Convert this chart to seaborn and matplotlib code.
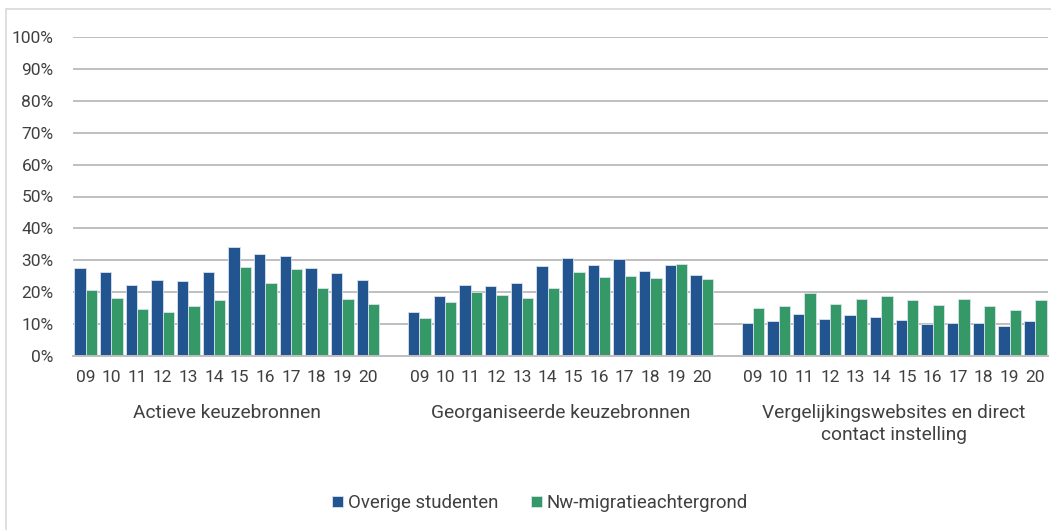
import matplotlib
matplotlib.use("Agg")
import matplotlib.pyplot as plt
import matplotlib.transforms as mtransforms
from matplotlib.patches import Rectangle
from matplotlib.ticker import PercentFormatter
import pandas as pd
import seaborn as sns

# Survey years (20xx) and the three clusters of information sources
years = ["09", "10", "11", "12", "13", "14", "15", "16", "17", "18", "19", "20"]
groups = [
    "Actieve keuzebronnen",
    "Georganiseerde keuzebronnen",
    "Vergelijkingswebsites en direct\ncontact instelling",
]
series = ["Overige studenten", "Nw-migratieachtergrond"]

# Share of students per year (%)
actief_overig = [27.5, 26.2, 22.2, 23.7, 23.5, 26.4, 34.1, 32.0, 31.3, 27.5, 25.9, 23.7]
actief_migratie = [20.7, 18.3, 14.7, 13.8, 15.6, 17.6, 28.0, 22.9, 27.2, 21.4, 18.0, 16.3]
georg_overig = [13.7, 18.8, 22.3, 22.0, 22.9, 28.3, 30.7, 28.6, 30.4, 26.7, 28.4, 25.4]
georg_migratie = [11.9, 16.9, 20.1, 19.1, 18.2, 21.4, 26.4, 24.8, 25.2, 24.3, 28.8, 24.1]
vergel_overig = [10.2, 11.0, 13.2, 11.7, 12.8, 12.3, 11.3, 9.9, 10.3, 10.2, 9.3, 11.1]
vergel_migratie = [15.1, 15.6, 19.6, 16.3, 17.9, 18.8, 17.5, 16.0, 17.8, 15.8, 14.5, 17.6]

values = {
    groups[0]: (actief_overig, actief_migratie),
    groups[1]: (georg_overig, georg_migratie),
    groups[2]: (vergel_overig, vergel_migratie),
}

rows = []
order = []
for gi, g in enumerate(groups):
    if gi > 0:
        order.append(f"gap{gi}")  # empty slot between clusters
    for y, a, b in zip(years, values[g][0], values[g][1]):
        key = f"{g}|{y}"
        order.append(key)
        rows.append({"slot": key, "reeks": series[0], "aandeel": a / 100})
        rows.append({"slot": key, "reeks": series[1], "aandeel": b / 100})
df = pd.DataFrame(rows)

colors = ["#22558f", "#349966"]
text_color = "#404040"

sns.set_style("white")
plt.rcParams["font.family"] = ["Roboto", "DejaVu Sans"]

fig = plt.figure(figsize=(10.51, 5.30), dpi=100)
W, H = 1051, 530
ax = fig.add_axes([73 / W, (H - 356) / H, (1048 - 73) / W, (356 - 37) / H])

sns.barplot(
    data=df, x="slot", y="aandeel", hue="reeks", order=order,
    hue_order=series, palette=colors, width=0.885, gap=0,
    edgecolor="#d8e2ec", linewidth=0.6, saturation=1, ax=ax, legend=True,
)

ax.set_ylim(0, 1)
ax.set_xlim(-0.5, len(order) - 0.5)
ax.set_yticks([i / 10 for i in range(11)])
ax.yaxis.set_major_formatter(PercentFormatter(1.0, decimals=0))
ax.grid(axis="y", color="#bfbfbf", linewidth=1.4)
ax.set_axisbelow(True)
for side in ["left", "right", "top"]:
    ax.spines[side].set_visible(False)
ax.spines["bottom"].set_color("#bfbfbf")
ax.spines["bottom"].set_linewidth(1.4)

tick_pos = [i for i, k in enumerate(order) if "|" in k]
tick_lab = [order[i].split("|")[1] for i in tick_pos]
ax.set_xticks(tick_pos)
ax.set_xticklabels(tick_lab)
ax.tick_params(axis="x", length=0, pad=10, labelsize=12.5, labelcolor=text_color)
ax.tick_params(axis="y", length=0, pad=14, labelsize=12.5, labelcolor=text_color)
ax.set_xlabel("")
ax.set_ylabel("")

# Cluster labels under the year ticks
trans = mtransforms.blended_transform_factory(ax.transData, fig.transFigure)
for g in groups:
    pos = [i for i, k in enumerate(order) if k.startswith(g + "|")]
    center = sum(pos) / len(pos)
    ax.text(center, (H - 404) / H, g, transform=trans, ha="center", va="top",
            fontsize=13.8, color=text_color, linespacing=1.3)

handles, labels = ax.get_legend_handles_labels()
ax.legend_.remove()
fig.legend(handles, labels, loc="center", bbox_to_anchor=(540 / W, (H - 503) / H),
           ncol=2, frameon=False, fontsize=13.4, handlelength=0.6, handleheight=0.6,
           handletextpad=0.25, columnspacing=1.75, labelcolor=text_color)

# Thin frame around the chart area
fig.patches.append(Rectangle((6 / W, -0.02), 1.0, (H - 9) / H + 0.02, fill=False,
                             edgecolor="#d9d9d9", linewidth=1.2, transform=fig.transFigure))

fig.savefig("out.png", dpi=100)
